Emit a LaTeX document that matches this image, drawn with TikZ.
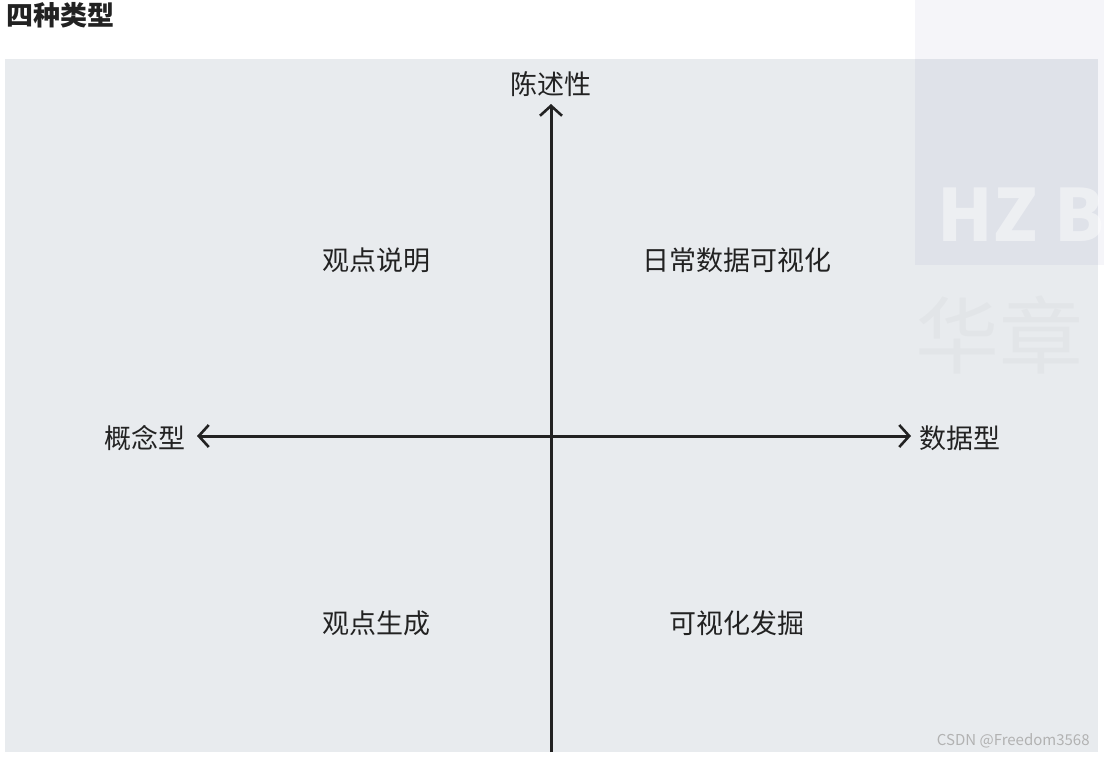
\documentclass[tikz,border=0pt]{standalone}
\usepackage{fontspec}
\setmainfont{Noto Sans CJK SC}
\usetikzlibrary{arrows.meta}
\definecolor{panel}{HTML}{E8EBEE}
\definecolor{ink}{HTML}{222222}
\tikzset{lbl/.style={font=\fontsize{13.5}{15}\selectfont, text=ink, inner sep=0pt},
axis/.style={line width=1.5pt, draw=ink, >={Straight Barb[length=5pt,width=11pt,line width=1.3pt]}}}
\begin{document}
\begin{tikzpicture}[x=0.5pt,y=-0.5pt]
\useasboundingbox (0,0) rectangle (1104,757);
\fill[white] (0,0) rectangle (1104,757);
\fill[panel] (5,59) rectangle (1098,752);
\fill[blue!30!gray, opacity=0.06] (915,0) rectangle (1104,265);
\begin{scope}
\clip (900,0) rectangle (1104,757);
\node[anchor=west, font=\fontsize{36}{40}\selectfont\bfseries, text=white, opacity=0.45, inner sep=0] at (937,215) {HZ B};
\node[anchor=west, font=\fontsize{42}{44}\selectfont, text=gray, opacity=0.05, inner sep=0] at (915,335) {华章};
\end{scope}
\node[anchor=west, font=\fontsize{13.5}{15}\selectfont\bfseries, text=ink, inner sep=0] (title) at (6,15) {四种类型};
\coordinate (top) at (551,104);
\coordinate (bot) at (551,752);
\coordinate (left) at (197,436);
\coordinate (right) at (911,436);
\draw[axis, ->] (bot) -- (top);
\draw[axis, <->] (left) -- (right);
\node[lbl] (n1) at (551,84) {陈述性};
\node[lbl] (n2) at (145,438) {概念型};
\node[lbl] (n3) at (960,438) {数据型};
\node[lbl] (q1) at (376,260) {观点说明};
\node[lbl] (q2) at (737,260) {日常数据可视化};
\node[lbl] (q3) at (376,623) {观点生成};
\node[lbl] (q4) at (737,623) {可视化发掘};
\node[anchor=east, font=\fontsize{7.5}{9}\selectfont, text=gray!60, inner sep=0] (wm) at (1090,741) {CSDN @Freedom3568};
\end{tikzpicture}
\end{document}
